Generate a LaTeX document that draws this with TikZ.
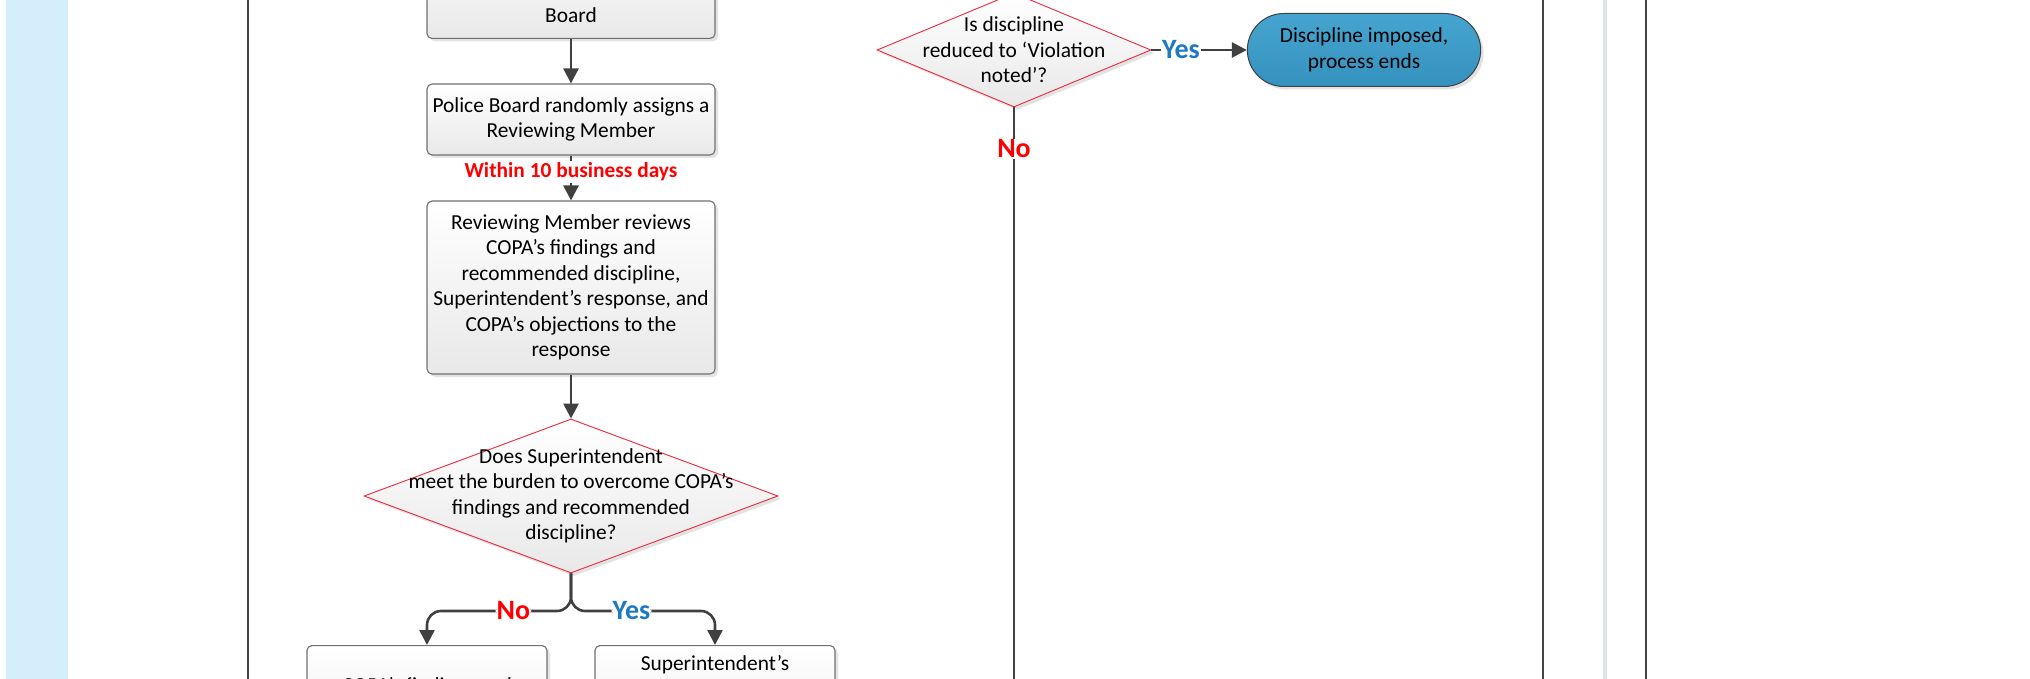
\documentclass[tikz,border=0pt]{standalone}
\usepackage{fontspec}
\setmainfont{Carlito}
\usetikzlibrary{arrows.meta,shapes.geometric,shapes.misc,shadows}

\definecolor{lanebg}{HTML}{D4EEFB}
\definecolor{laneline}{HTML}{454545}
\definecolor{lanegap}{HTML}{DDE5E9}
\definecolor{flowgrey}{HTML}{404040}
\definecolor{boxedge}{HTML}{707070}
\definecolor{decedge}{HTML}{F0283C}
\definecolor{yesblue}{HTML}{1F78C4}
\definecolor{termtop}{HTML}{46A5D0}
\definecolor{termbot}{HTML}{3591BD}

\begin{document}
\begin{tikzpicture}[x=1pt, y=-1pt,
	txt/.style={font=\fontsize{21.4}{25.5}\selectfont, align=center},
	shade/.style={drop shadow={shadow xshift=3pt, shadow yshift=-3pt, fill=black!22}},
	procbox/.style={draw=boxedge, line width=1.1pt, rounded corners=5pt, top color=white, bottom color=black!9, shade, minimum width=288pt, inner sep=0pt, txt},
	decision/.style={diamond, draw=decedge, line width=0.9pt, top color=white, bottom color=black!9, shade, inner sep=0pt},
	terminal/.style={rounded rectangle, draw=black!75, line width=1pt, top color=termtop, bottom color=termbot, shade, minimum width=240pt, minimum height=73pt, txt},
	flowline/.style={draw=flowgrey, line width=2.6pt},
	flow/.style={flowline, -{Triangle[width=15pt,length=15pt]}},
	lblno/.style={font=\fontsize{28}{32}\selectfont\bfseries, text=red, fill=white, inner sep=1pt},
	lblyes/.style={font=\fontsize{28}{32}\selectfont\bfseries, text=yesblue, fill=white, inner sep=1pt},
	lbldays/.style={font=\fontsize{21.4}{25}\selectfont\bfseries, text=red, fill=white, inner sep=2pt},
	lane/.style={draw=laneline, line width=2.8pt}]
	\useasboundingbox (0,0) rectangle (2030,679);
	\clip (0,0) rectangle (2030,679);

	\fill[lanebg] (6,0) rectangle (68,679);
	\draw[lane] (248,0) -- (248,679);
	\draw[lane] (1543,0) -- (1543,679);
	\fill[lanegap] (1603,0) rectangle (1607,679);
	\draw[lane] (1646,0) -- (1646,679);

	\node[procbox, minimum height=100pt, anchor=south] (forward) at (571,39) {};
	\node[txt] (forwardtxt) at (571,15) {Board};
	\node[procbox, minimum height=71pt] (assign) at (571,119.5) {Police Board randomly assigns a\\Reviewing Member};
	\node[procbox, minimum height=173pt] (review) at (571,287.5) {Reviewing Member reviews\\COPA’s findings and\\recommended discipline,\\Superintendent’s response, and\\COPA’s objections to the\\response};
	\node[decision, minimum width=414pt, minimum height=154pt, label={[txt]center:{Does Superintendent\\meet the burden to overcome COPA’s\\findings and recommended\\discipline?}}] (burden) at (571,496) {};
	\node[procbox, minimum width=240pt, minimum height=120pt, anchor=north] (upheld) at (427,645) {};
	\node[txt] (upheldtxt) at (427,687) {COPA’s findings and};
	\node[procbox, minimum width=240pt, minimum height=120pt, anchor=north] (overcome) at (715,645) {};
	\node[txt] (overcometxt) at (715,665) {Superintendent’s};

	\node[decision, minimum width=274pt, minimum height=114pt, label={[txt]center:{Is discipline\\reduced to ‘Violation\\noted’?}}] (reduced) at (1014,50) {};
	\node[terminal] (imposed) at (1364,50) {Discipline imposed,\\process ends};
	\node[lblno] (reducedno) at (1014,149) {No};
	\coordinate (fork) at (571,611);
	\coordinate (offpage) at (1014,679);

	\draw[flow] (forward) -- (assign);
	\draw[flow] (assign) -- node[lbldays, pos=0.37]{Within 10 business days} (review);
	\draw[flow] (review) -- (burden);
	\draw[flow, rounded corners=14pt] (burden.south) -- (fork) -| node[lblno, pos=0.2]{No} (upheld.north);
	\draw[flow, rounded corners=14pt] (burden.south) -- (fork) -| node[lblyes, pos=0.21]{Yes} (overcome.north);
	\draw[flow] (reduced) -- node[lblyes, pos=0.31]{Yes} (imposed);
	\draw[flowline] (reduced) -- (reducedno);
	\draw[flowline] (reducedno) -- (offpage);
\end{tikzpicture}
\end{document}
